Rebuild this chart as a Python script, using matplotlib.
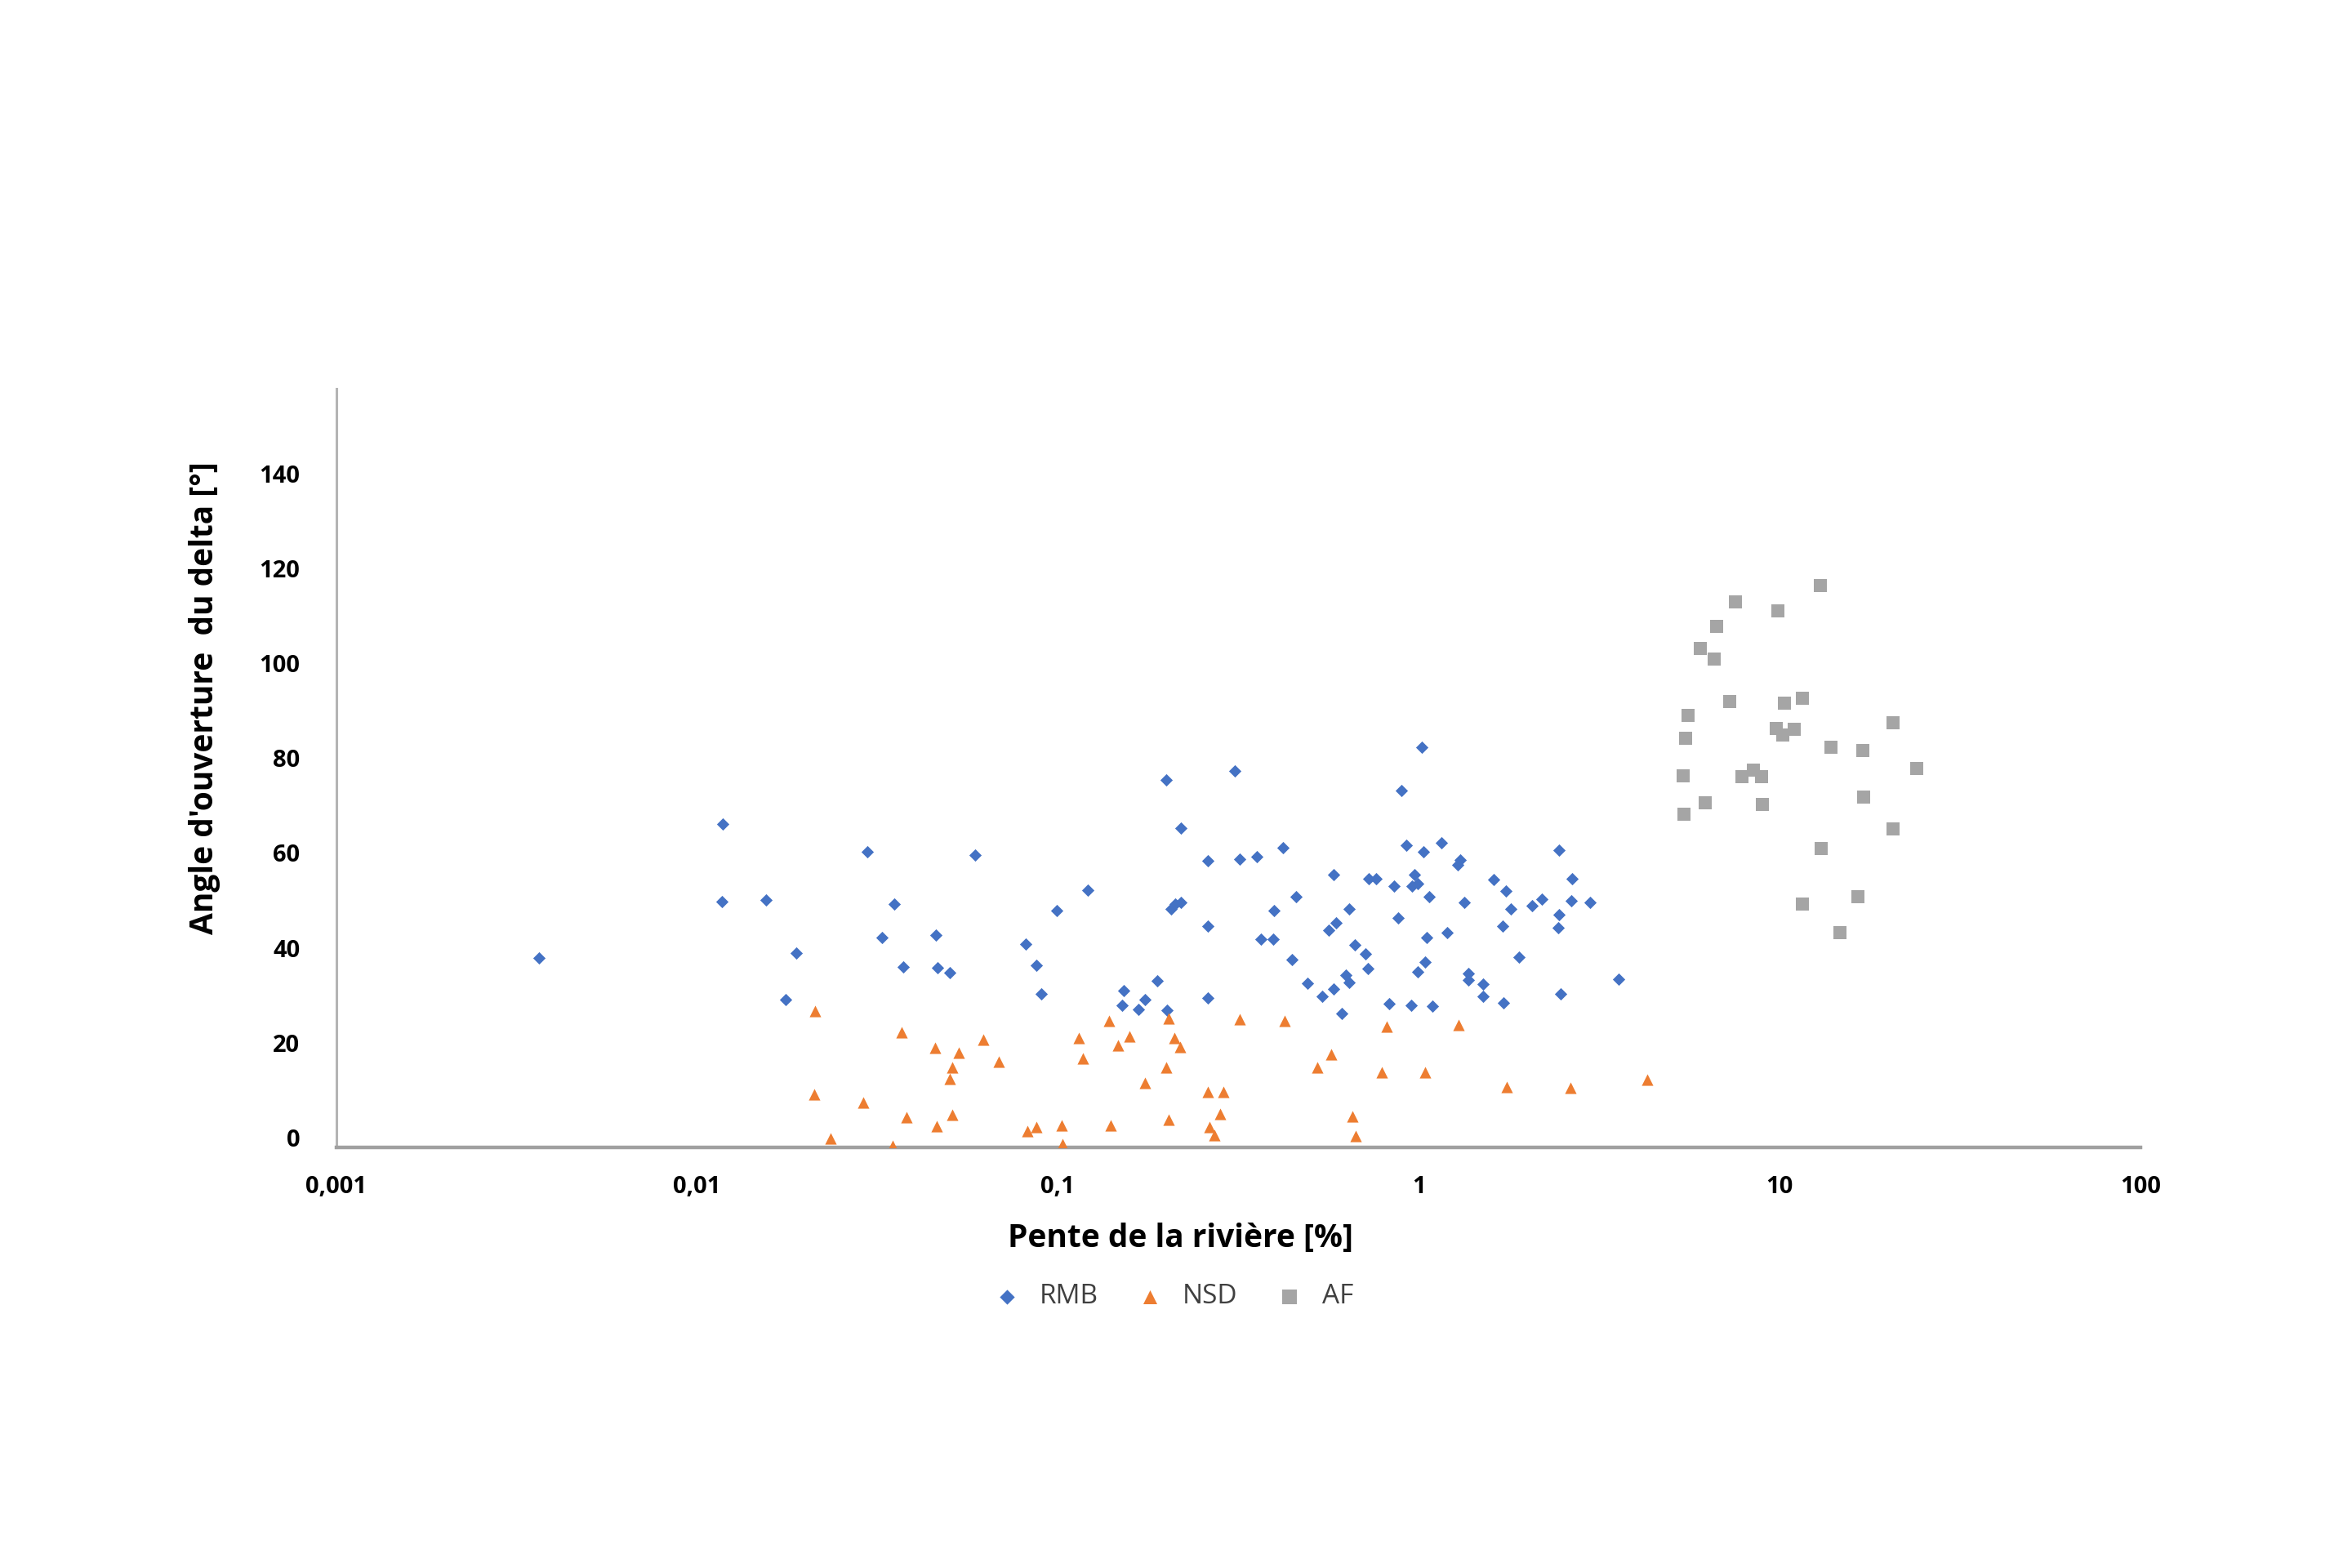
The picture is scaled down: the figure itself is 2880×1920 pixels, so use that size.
import matplotlib
matplotlib.use("Agg")
import matplotlib.pyplot as plt
from matplotlib.transforms import ScaledTranslation

# values
rmb_x = [0.00365, 0.0118, 0.0117, 0.0155, 0.0188, 0.0176, 0.0296, 0.0351, 0.0325, 0.0372,
         0.0460, 0.0464, 0.0501, 0.0590, 0.0814, 0.0870, 0.0900, 0.0995, 0.121, 0.152,
         0.151, 0.167, 0.174, 0.188, 0.201, 0.200, 0.219, 0.206, 0.2115, 0.219,
         0.261, 0.261, 0.260, 0.309, 0.319, 0.356, 0.421, 0.398, 0.365, 0.396,
         0.458, 0.445, 1.02, 0.894, 0.926, 1.03, 1.155, 2.45, 1.30, 1.28,
         0.582, 0.725, 0.761, 0.973, 0.995, 0.957, 0.856, 1.07, 1.34, 1.61,
         1.745, 1.80, 2.06, 2.19, 2.66, 2.65, 2.99, 0.640, 0.878, 2.45,
         2.43, 1.71, 0.589, 0.563, 1.05, 1.20, 0.666, 0.710, 1.90, 1.04,
         0.995, 0.723, 1.37, 1.37, 0.629, 0.640, 3.58, 1.51, 1.51, 0.582,
         0.491, 0.541, 2.47, 0.827, 0.953, 1.09, 1.72, 0.611]
rmb_y = [40.1, 68.2, 51.9, 52.2, 41.1, 31.2, 62.4, 51.3, 44.3, 38.2,
         44.9, 37.9, 36.9, 61.8, 43.0, 38.5, 32.5, 50.0, 54.3, 33.2,
         30.1, 29.2, 31.2, 35.2, 29.0, 77.5, 67.4, 50.4, 51.3, 51.8,
         60.5, 46.7, 31.6, 79.4, 60.8, 61.4, 63.2, 50.0, 44.0, 44.0,
         52.9, 39.6, 84.4, 75.4, 63.7, 62.4, 64.3, 62.7, 60.6, 59.6,
         57.6, 56.8, 56.8, 57.6, 55.7, 55.2, 55.2, 52.9, 51.7, 56.5,
         54.2, 50.4, 51.1, 52.5, 56.8, 52.1, 51.7, 50.4, 48.4, 49.1,
         46.4, 46.7, 47.4, 45.8, 44.4, 45.4, 42.7, 40.8, 40.2, 39.2,
         37.1, 37.7, 36.7, 35.4, 36.4, 34.9, 35.5, 34.5, 32.0, 33.4,
         34.6, 32.0, 32.5, 30.4, 30.0, 29.9, 30.5, 28.3]

nsd_x = [0.0212, 0.0368, 0.0457, 0.0531, 0.0620, 0.0687, 0.0509, 0.0501, 0.0211, 0.0288,
         0.0380, 0.0509, 0.0461, 0.0234, 0.0348, 0.0821, 0.0870, 0.1023, 0.103, 0.1144,
         0.117, 0.1386, 0.1467, 0.158, 0.140, 0.174, 0.200, 0.203, 0.2105, 0.218,
         0.203, 0.260, 0.288, 0.281, 0.263, 0.271, 0.319, 0.424, 0.523, 0.571,
         0.656, 0.667, 0.816, 0.788, 1.04, 1.29, 1.75, 2.64, 4.3]
nsd_y = [28.9, 24.4, 21.1, 20.1, 22.8, 18.1, 17.0, 14.5, 11.3, 9.6,
         6.4, 6.9, 4.5, 1.9, 0.5, 3.6, 4.3, 4.7, 0.8, 23.2,
         18.8, 26.7, 21.6, 23.5, 4.8, 13.6, 16.9, 27.3, 23.1, 21.3,
         5.9, 11.7, 11.8, 7.1, 4.4, 2.7, 27.1, 26.8, 17.0, 19.7,
         6.7, 2.5, 25.5, 16.0, 16.0, 25.9, 12.8, 12.7, 14.3]

af_x = [12.95, 7.54, 9.89, 6.70, 6.02, 6.59, 7.28, 10.33, 11.56, 5.59,
        5.49, 9.81, 10.98, 10.19, 20.6, 13.92, 16.98, 24.06, 5.40, 7.87,
        8.46, 8.92, 6.23, 8.97, 17.08, 5.44, 20.6, 13.06, 16.50, 11.56, 14.73]
af_y = [118.5, 115.1, 113.2, 109.9, 105.2, 103.1, 94.1, 93.7, 94.7, 91.2,
        86.4, 88.4, 88.3, 87.1, 89.6, 84.4, 83.7, 79.9, 78.4, 78.2,
        79.6, 78.3, 72.8, 72.4, 73.9, 70.3, 67.2, 63.1, 53.0, 51.3, 45.4]

x_ticks = [0.001, 0.01, 0.1, 1, 10, 100]
x_tick_labels = ["0,001", "0,01", "0,1", "1", "10", "100"]
y_ticks = [0, 20, 40, 60, 80, 100, 120, 140]

plt.rcParams['font.family'] = ['Open Sans', 'DejaVu Sans']

fig = plt.figure(figsize=(14.4, 9.6), dpi=200)
ax = fig.add_axes([0.143, 0.268, 0.767, 0.484])

ax.scatter(rmb_x, rmb_y, marker="D", s=15, color="#4472C4", linewidths=0, label="RMB", zorder=3)
ax.scatter(nsd_x, nsd_y, marker="^", s=26, color="#ED7D31", linewidths=0, label="NSD", zorder=3)
ax.scatter(af_x, af_y, marker="s", s=32, color="#A5A5A5", linewidths=0, label="AF", zorder=3)

ax.set_xscale("log")
ax.set_xlim(0.001, 100)
ax.set_ylim(0, 160)
ax.set_xticks(x_ticks)
ax.set_xticklabels(x_tick_labels)
ax.minorticks_off()
ax.set_yticks(y_ticks)
ax.tick_params(axis="both", length=0, labelsize=10.5)
ax.tick_params(axis="x", pad=12)
ax.tick_params(axis="y", pad=16)
for lab in ax.get_xticklabels() + ax.get_yticklabels():
    lab.set_fontweight("bold")
# the reference draws its y labels a little above their ticks
shift = ScaledTranslation(0, 4.5 / 72, fig.dpi_scale_trans)
for lab in ax.get_yticklabels():
    lab.set_transform(lab.get_transform() + shift)

for side in ["top", "right"]:
    ax.spines[side].set_visible(False)
ax.spines["left"].set_color("#B4B4B4")
ax.spines["left"].set_linewidth(1.1)
ax.spines["bottom"].set_color("#A0A0A0")
ax.spines["bottom"].set_linewidth(1.6)

fig.text(0.502, 0.21, "Pente de la rivière [%]", ha="center", va="center",
         fontsize=14, fontweight="bold")
fig.text(0.087, 0.555, "Angle d'ouverture  du delta [°]", ha="center", va="center",
         rotation=90, fontsize=14, fontweight="bold")

fig.legend(loc="center", bbox_to_anchor=(0.496, 0.173), ncol=3, frameon=False,
           fontsize=12, handletextpad=0.2, columnspacing=0.9, markerscale=1.2,
           labelcolor="#404040")

fig.savefig("out.png", dpi=200, facecolor="white")
